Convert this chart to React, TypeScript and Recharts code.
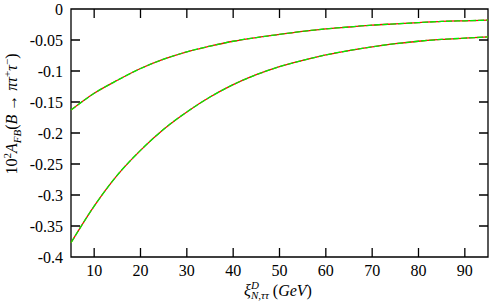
import React from 'react';
import { LineChart, Line, XAxis, YAxis, ReferenceArea } from 'recharts';

// xi^D_{N,tautau} in GeV
const xi = [5, 10, 15, 20, 25, 30, 35, 40, 45, 50, 55, 60, 65, 70, 75, 80, 85, 90, 95];
// 10^2 A_FB, upper and lower curve
const upper = [-0.163, -0.136, -0.115, -0.096, -0.081, -0.069, -0.06, -0.052, -0.046, -0.041, -0.036, -0.032, -0.029, -0.026, -0.024, -0.022, -0.02, -0.019, -0.018];
const lower = [-0.377, -0.318, -0.268, -0.228, -0.194, -0.166, -0.142, -0.122, -0.106, -0.093, -0.083, -0.074, -0.067, -0.061, -0.056, -0.052, -0.049, -0.047, -0.045];

const xTicks = [10, 20, 30, 40, 50, 60, 70, 80, 90];
const yTicks = [-0.4, -0.35, -0.3, -0.25, -0.2, -0.15, -0.1, -0.05, 0];

const data = xi.map((x, i) => ({ x, upper: upper[i], lower: lower[i] }));

const X0 = 5, X1 = 95, Y0 = -0.4, Y1 = 0;
const TL = 9; // inward tick length, px

const font = '"Liberation Serif", "DejaVu Serif", serif';
const tickStyle = { fontFamily: font, fontSize: 16, fill: '#000' };

// frame + inward ticks on all four sides, placed inside the rect the area gets from the axes
const FrameShape = ({ x, y, width, height }: any) => {
  const px = (t: number) => x + ((t - X0) / (X1 - X0)) * width;
  const py = (t: number) => y + ((Y1 - t) / (Y1 - Y0)) * height;
  let d = `M${x},${y}h${width}v${height}h${-width}Z`;
  xTicks.forEach((t) => {
    d += `M${px(t)},${y + height}v${-TL}M${px(t)},${y}v${TL}`;
  });
  yTicks.forEach((t) => {
    d += `M${x},${py(t)}h${TL}M${x + width},${py(t)}h${-TL}`;
  });
  return <path className="recharts-rectangle" d={d} fill="none" stroke="#000" strokeWidth={1.3} />;
};

const YTitle = () => (
  <text transform="translate(17,114) rotate(-90)" textAnchor="middle" fontFamily={font} fontSize={16} fill="#000">
    10<tspan dy={-6} fontSize={11}>2</tspan>
    <tspan dy={6} fontStyle="italic">A</tspan>
    <tspan dy={4} fontSize={11} fontStyle="italic">FB</tspan>
    <tspan dy={-4}>(</tspan>
    <tspan fontStyle="italic">B</tspan>
    <tspan>{' \u2192 '}</tspan>
    <tspan fontStyle="italic">{'\u03c0\u03c4'}</tspan>
    <tspan dy={-6} fontSize={11}>+</tspan>
    <tspan dy={6} fontStyle="italic">{'\u03c4'}</tspan>
    <tspan dy={-6} fontSize={11}>{'\u2212'}</tspan>
    <tspan dy={6}>)</tspan>
  </text>
);

const XTitle = () => (
  <text x={278} y={296} textAnchor="middle" fontFamily={font} fontSize={16} fill="#000">
    <tspan fontStyle="italic">{'\u03be'}</tspan>
    <tspan dy={-7} fontSize={11} fontStyle="italic">D</tspan>
    <tspan dx={-8} dy={10} fontSize={11} fontStyle="italic">{'N,\u03c4\u03c4'}</tspan>
    <tspan dy={-3}>{' ('}</tspan>
    <tspan fontStyle="italic">GeV</tspan>
    <tspan>)</tspan>
  </text>
);

export default function App() {
  return (
    <div style={{ position: 'absolute', left: 0, top: 0, background: '#fff' }}>
      <LineChart width={491} height={301} data={data} margin={{ top: 9, right: 3, bottom: 14, left: 11 }}>
        <XAxis
          dataKey="x"
          type="number"
          domain={[X0, X1]}
          ticks={xTicks}
          interval={0}
          height={30}
          tickSize={0}
          tickMargin={8}
          axisLine={false}
          tickLine={false}
          tick={tickStyle}
          label={<XTitle />}
        />
        <YAxis
          type="number"
          domain={[Y0, Y1]}
          ticks={yTicks}
          interval={0}
          width={60}
          tickSize={0}
          tickMargin={8}
          axisLine={false}
          tickLine={false}
          tick={tickStyle}
          tickFormatter={(v: number) => String(v)}
          label={<YTitle />}
        />
        <ReferenceArea x1={X0} x2={X1} y1={Y0} y2={Y1} fill="none" stroke="#000" strokeWidth={1.3} ifOverflow="visible" shape={FrameShape} />
        <Line dataKey="upper" type="monotone" stroke="#ff0000" strokeWidth={1.3} dot={false} isAnimationActive={false} />
        <Line dataKey="upper" type="monotone" stroke="#00ee00" strokeWidth={1.3} strokeDasharray="6 2" dot={false} isAnimationActive={false} />
        <Line dataKey="lower" type="monotone" stroke="#ff0000" strokeWidth={1.3} dot={false} isAnimationActive={false} />
        <Line dataKey="lower" type="monotone" stroke="#00ee00" strokeWidth={1.3} strokeDasharray="6 2" dot={false} isAnimationActive={false} />
      </LineChart>
    </div>
  );
}
